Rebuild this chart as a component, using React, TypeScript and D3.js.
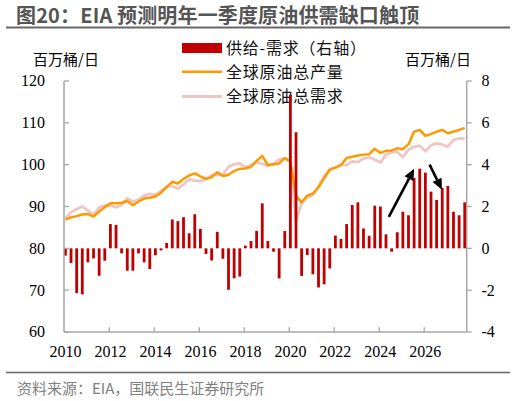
import React from 'react';
import * as d3 from 'd3';

// ---------- data ----------
const years = ['2010','2011','2012','2013','2014','2015','2016','2017','2018','2019','2020','2021','2022','2023','2024','2025','2026','2027'];
const qs = ['Q1','Q2','Q3','Q4'];
const categories: string[] = years.flatMap((y) => qs.map((q) => y + q));

const xTickLabels = ['2010','2012','2014','2016','2018','2020','2022','2024','2026'];
const leftTicks = [60, 70, 80, 90, 100, 110, 120];
const rightTicks = [-4, -2, 0, 2, 4, 6, 8];

// 供给-需求（右轴）
const gap = [
  -0.35, -0.7, -2.14, -2.2, -0.67, -0.48, -1.31, -0.59,
  1.16, 1.12, -0.24, -1.07, -1.07, -0.24, -0.67, -0.99,
  -0.33, -0.1, 0.26, 1.38, 1.3, 1.49, 0.72, 1.63,
  0.93, -0.27, -0.58, 0.79, -0.5, -1.98, -1.43, -1.35,
  0.13, 0.35, 0.83, 2.15, 0.35, -0.16, -1.44, 0.83,
  7.34, 5.55, -1.32, -0.32, -1.24, -1.87, -1.72, -0.96,
  0.61, 0.45, 1.16, 2.07, 2.2, 0.95, 0.6, 2.04,
  2.0, 0.67, -0.16, 0.77, 1.75, 1.58, 3.37, 3.81,
  3.62, 2.71, 2.31, 2.89, 2.98, 1.75, 1.58, 2.2,
];

// 全球原油总产量
const supply = [
  86.9, 87.4, 87.7, 88.1, 88.2, 87.6, 88.8, 89.8,
  90.8, 90.8, 90.9, 91.3, 90.3, 91.2, 91.9, 92.1,
  92.4, 93.3, 94.7, 95.9, 95.5, 96.6, 97.4, 97.9,
  97.2, 96.6, 97.0, 98.2, 97.3, 97.6, 98.5, 99.0,
  99.1, 99.5, 100.9, 102.1, 99.9, 100.1, 100.3, 101.6,
  100.8, 92.5, 91.0, 92.6, 93.1, 94.6, 96.8, 98.8,
  99.3, 99.9, 101.6, 101.9, 102.2, 102.4, 102.5, 103.8,
  102.8, 103.3, 103.4, 103.9, 103.7, 104.9, 107.9, 108.3,
  106.9, 107.3, 107.9, 108.3, 107.5, 107.9, 108.3, 108.8,
];

// 全球原油总需求
const demand = [
  87.2, 88.6, 89.4, 90.0, 89.0, 88.0, 89.8, 90.3,
  90.2, 89.8, 90.4, 92.0, 91.2, 91.6, 92.6, 93.0,
  92.8, 93.8, 94.6, 94.9, 94.3, 95.3, 96.5, 96.2,
  96.1, 96.6, 97.5, 97.7, 97.6, 99.5, 100.1, 100.3,
  99.4, 99.9, 100.6, 100.2, 99.7, 100.2, 101.2, 101.5,
  100.6, 86.6, 90.8, 92.2, 92.7, 94.8, 97.2, 98.9,
  99.3, 100.0, 99.9, 100.8, 100.6, 101.5, 101.7, 101.2,
  100.5, 102.4, 103.0, 103.1, 101.8, 103.6, 104.3, 104.5,
  103.2, 104.6, 105.1, 104.8, 104.3, 105.9, 106.3, 106.2,
];

// annotation arrows in data units [categoryIndex, rightAxisValue]
const arrows: [number, number, number, number][] = [
  [57.5, 1.5, 62.0, 3.8],
  [64.75, 4.0, 66.95, 2.8],
];

const legendItems = ['供给-需求（右轴）', '全球原油总产量', '全球原油总需求'];

// ---------- styles ----------
const RED = '#C00000';
const ORANGE = '#FF9900';
const PINK = '#EFC6C6';
const AXIS = '#A6A6A6';
const CJK = '"Noto Sans CJK SC", "Noto Sans", sans-serif';
const NUM = '"Liberation Serif", "DejaVu Serif", serif';

export default function App() {
  const W = 516, H = 401;
  const left = 64, right = 466.7, top = 81, bottom = 332;

  const x = d3.scaleLinear().domain([-0.25, 71.35]).range([left, right]);
  const yL = d3.scaleLinear().domain([60, 120]).range([bottom, top]);
  const yR = d3.scaleLinear().domain([-4, 8]).range([bottom, top]);

  const line = d3.line<number>().x((_, i) => x(i)).y((d) => yL(d));
  const barW = 2.8;

  const tickIdx = xTickLabels.map((l) => categories.indexOf(l + 'Q1'));

  const arrowShapes = arrows.map(([i0, v0, i1, v1], k) => {
    const x0 = x(i0), y0 = yR(v0), x1 = x(i1), y1 = yR(v1);
    const ang = Math.atan2(y1 - y0, x1 - x0);
    const L = 11, hw = 5;
    const bx = x1 - L * Math.cos(ang), by = y1 - L * Math.sin(ang);
    const p = [
      [x1, y1],
      [bx + hw * Math.sin(ang), by - hw * Math.cos(ang)],
      [bx - hw * Math.sin(ang), by + hw * Math.cos(ang)],
    ];
    return (
      <g key={k}>
        <line x1={x0} y1={y0} x2={bx} y2={by} stroke="#000" strokeWidth={2.6} />
        <polygon points={p.map((q) => q.join(',')).join(' ')} fill="#000" />
      </g>
    );
  });

  return (
    <svg width={W} height={H} style={{ position: 'absolute', left: 0, top: 0, background: '#fff' }}>
      <rect width={W} height={H} fill="#fff" />
      {/* title */}
      <text x={16} y={22.5} fontFamily={CJK} fontWeight={700} fontSize={20} fill="#555" letterSpacing={0.15}>
        图20：EIA 预测明年一季度原油供需缺口触顶
      </text>
      <line x1={6} x2={510} y1={27.5} y2={27.5} stroke="#666" strokeWidth={1.8} />

      {/* units */}
      <text x={33} y={65} fontFamily={CJK} fontSize={15} fill="#000">百万桶/日</text>
      <text x={405} y={65} fontFamily={CJK} fontSize={15} fill="#000">百万桶/日</text>

      {/* legend */}
      <rect x={182} y={43} width={40} height={10} fill={RED} />
      <line x1={182} x2={222} y1={71.7} y2={71.7} stroke={ORANGE} strokeWidth={2.5} />
      <line x1={182} x2={222} y1={96.5} y2={96.5} stroke={PINK} strokeWidth={3} />
      {legendItems.map((t, k) => (
        <text key={t} x={226} y={48 + k * 24.3} dy="0.36em" fontFamily={CJK} fontSize={16} fill="#111" letterSpacing={0.8}>
          {t}
        </text>
      ))}

      {/* lines (primary axis) */}
      <path d={line(demand) || ''} fill="none" stroke={PINK} strokeWidth={2.8} strokeLinejoin="round" />
      <path d={line(supply) || ''} fill="none" stroke={ORANGE} strokeWidth={2.5} strokeLinejoin="round" />

      {/* bars (secondary axis) */}
      {gap.map((v, i) => (
        <rect
          key={categories[i]}
          x={x(i) - barW / 2}
          y={yR(Math.max(0, v))}
          width={barW}
          height={Math.abs(yR(v) - yR(0))}
          fill={RED}
        />
      ))}

      {arrowShapes}

      {/* axes */}
      <line x1={left} x2={left} y1={top} y2={bottom} stroke={AXIS} strokeWidth={1.5} />
      <line x1={right} x2={right} y1={top} y2={bottom} stroke={AXIS} strokeWidth={1.5} />
      <line x1={left} x2={right} y1={bottom} y2={bottom} stroke={AXIS} strokeWidth={1.5} />
      {leftTicks.map((t) => (
        <g key={'l' + t}>
          <line x1={left} x2={left + 5} y1={yL(t)} y2={yL(t)} stroke={AXIS} strokeWidth={1.3} />
          <text x={45} y={yL(t)} dy="0.34em" textAnchor="end" fontFamily={NUM} fontSize={16} fill="#000">
            {t}
          </text>
        </g>
      ))}
      {rightTicks.map((t) => (
        <g key={'r' + t}>
          <line x1={right} x2={right + 5} y1={yR(t)} y2={yR(t)} stroke={AXIS} strokeWidth={1.3} />
          <text x={481.5} y={yR(t)} dy="0.34em" textAnchor="start" fontFamily={NUM} fontSize={16} fill="#000">
            {t}
          </text>
        </g>
      ))}
      {tickIdx.map((i, k) => (
        <g key={'x' + k}>
          {i > 0 && (
            <line x1={x(i - 0.2)} x2={x(i - 0.2)} y1={bottom} y2={bottom - 4.7} stroke={AXIS} strokeWidth={1.3} />
          )}
          <text x={x(i)} y={357.3} textAnchor="middle" fontFamily={NUM} fontSize={16} fill="#000">
            {xTickLabels[k]}
          </text>
        </g>
      ))}

      {/* footer */}
      <line x1={6} x2={510} y1={372.5} y2={372.5} stroke="#666" strokeWidth={1.7} />
      <text x={17} y={393.5} fontFamily={CJK} fontSize={15} fill="#7F7F7F">
        资料来源：EIA，国联民生证券研究所
      </text>
    </svg>
  );
}
